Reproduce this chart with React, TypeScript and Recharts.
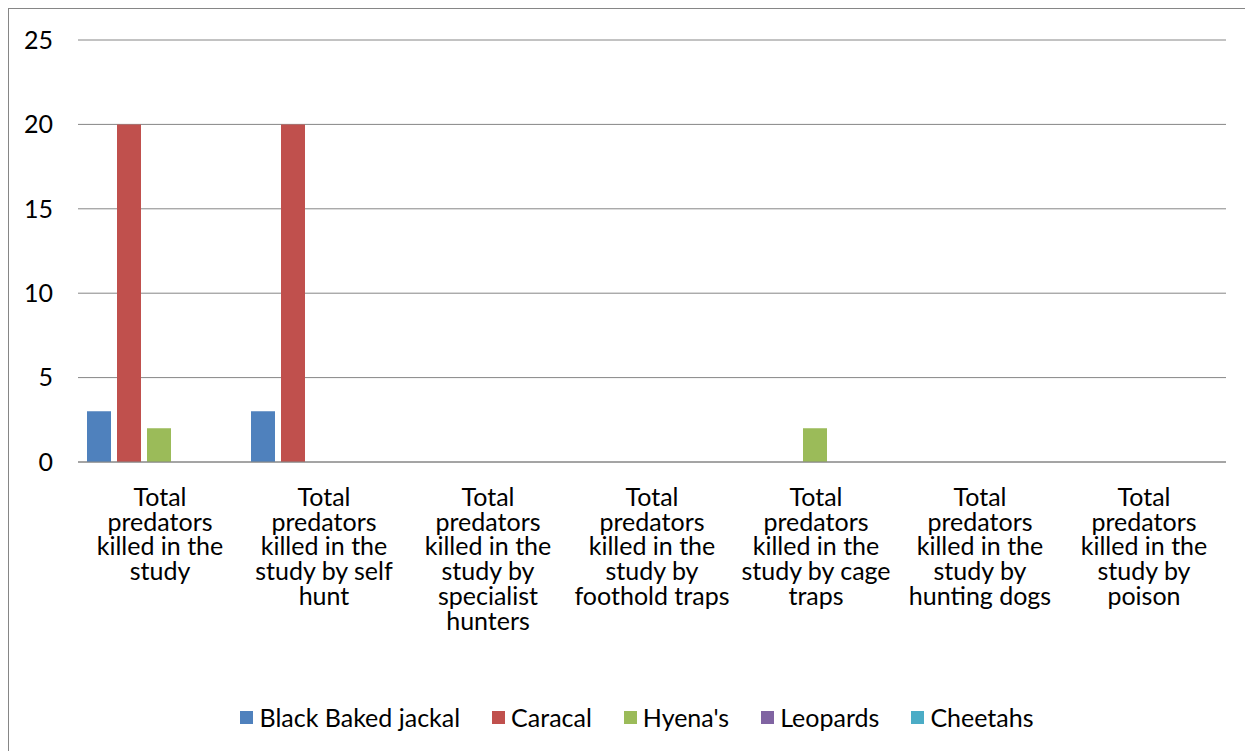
import { BarChart, Bar, XAxis, YAxis, CartesianGrid } from "recharts";

const categories = [
  "Total\npredators\nkilled in the\nstudy",
  "Total\npredators\nkilled in the\nstudy by self\nhunt",
  "Total\npredators\nkilled in the\nstudy by\nspecialist\nhunters",
  "Total\npredators\nkilled in the\nstudy by\nfoothold traps",
  "Total\npredators\nkilled in the\nstudy by cage\ntraps",
  "Total\npredators\nkilled in the\nstudy by\nhunting dogs",
  "Total\npredators\nkilled in the\nstudy by\npoison",
];

const blackBakedJackal = [3, 3, 0, 0, 0, 0, 0];
const caracal = [20, 20, 0, 0, 0, 0, 0];
const hyenas = [2, 0, 0, 0, 2, 0, 0];
const leopards = [0, 0, 0, 0, 0, 0, 0];
const cheetahs = [0, 0, 0, 0, 0, 0, 0];

const yTicks = [0, 5, 10, 15, 20, 25];

const series = [
  { key: "jackal", name: "Black Baked jackal", values: blackBakedJackal, color: "#4F81BD" },
  { key: "caracal", name: "Caracal", values: caracal, color: "#C0504D" },
  { key: "hyena", name: "Hyena's", values: hyenas, color: "#9BBB59" },
  { key: "leopard", name: "Leopards", values: leopards, color: "#8064A2" },
  { key: "cheetah", name: "Cheetahs", values: cheetahs, color: "#4BACC6" },
];

const data = categories.map((category, i) => {
  const row: Record<string, string | number> = { category };
  series.forEach((s) => {
    row[s.key] = s.values[i];
  });
  return row;
});

const FONT = "Lato, 'DejaVu Sans', sans-serif";
const FONT_SIZE = 25;

function CategoryTick({ x, y, payload }: any) {
  const lines = String(payload.value).split("\n");
  return (
    <text x={x} y={y} textAnchor="middle" fill="#000" fontSize={FONT_SIZE} fontFamily={FONT}>
      {lines.map((line, i) => (
        <tspan key={i} x={x} dy={i === 0 ? 36 : 24.7}>
          {line}
        </tspan>
      ))}
    </text>
  );
}

export default function App() {
  return (
    <div
      style={{
        position: "relative",
        width: 1256,
        height: 748,
        border: "1px solid #868686",
        background: "#fff",
        fontFamily: FONT,
      }}
    >
      <BarChart
        width={1256}
        height={748}
        data={data}
        margin={{ top: 31, right: 39, left: 0, bottom: 0 }}
        barCategoryGap={9}
        barGap={6}
      >
        <CartesianGrid vertical={false} stroke="#868686" />
        <XAxis
          dataKey="category"
          height={295}
          interval={0}
          tickLine={false}
          axisLine={{ stroke: "#868686" }}
          tick={<CategoryTick />}
        />
        <YAxis
          width={69}
          domain={[0, 25]}
          ticks={yTicks}
          axisLine={false}
          tickLine={false}
          tickMargin={19}
          tick={{ fill: "#000", fontSize: FONT_SIZE, fontFamily: FONT }}
        />
        {series.map((s) => (
          <Bar key={s.key} dataKey={s.key} name={s.name} fill={s.color} isAnimationActive={false} />
        ))}
      </BarChart>
      <div
        style={{
          position: "absolute",
          left: 0,
          top: 695,
          width: 1256,
          height: 26,
          display: "flex",
          justifyContent: "center",
          alignItems: "center",
          gap: 32,
          fontSize: FONT_SIZE,
          color: "#000",
        }}
      >
        {series.map((s) => (
          <div key={s.key} style={{ display: "flex", alignItems: "center" }}>
            <span
              style={{ display: "inline-block", width: 13, height: 13, background: s.color, marginRight: 6 }}
            />
            <span>{s.name}</span>
          </div>
        ))}
      </div>
    </div>
  );
}
